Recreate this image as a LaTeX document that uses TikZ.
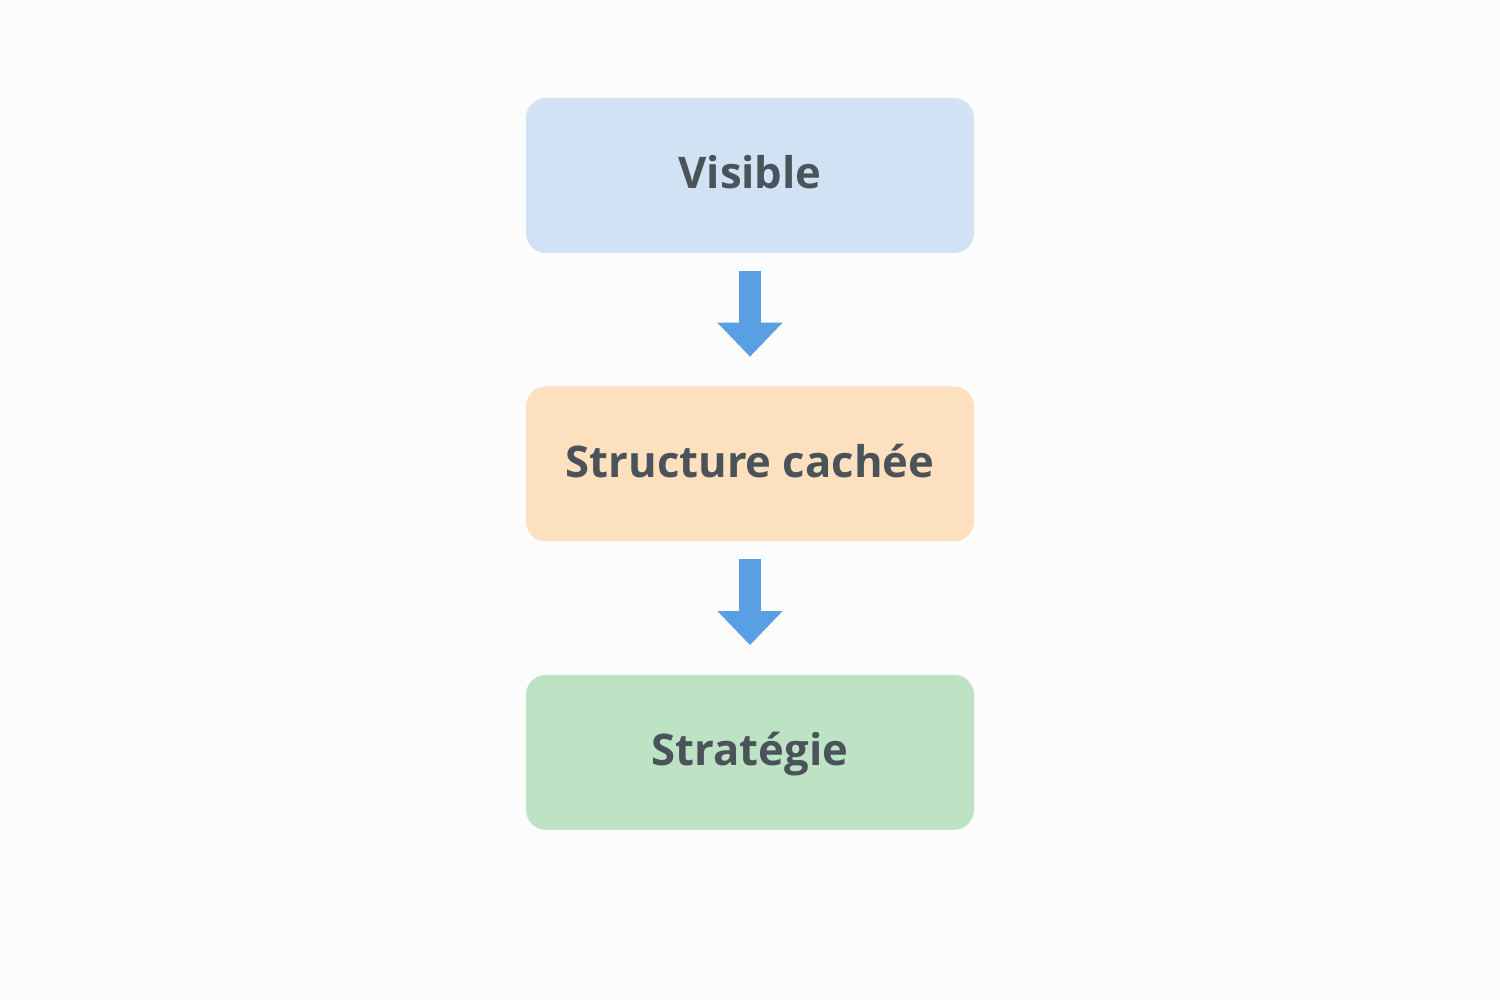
\documentclass[tikz,border=0pt]{standalone}
\usepackage{fontspec}
\setmainfont{Open Sans}
\usepackage{xcolor}
\usepackage{tikz}
\usetikzlibrary{positioning, arrows.meta}
\definecolor{bgwhite}{HTML}{FCFCFC}
\definecolor{stblue}{HTML}{D2E2F5}
\definecolor{storange}{HTML}{FDE0BE}
\definecolor{stgreen}{HTML}{BDE2C4}
\definecolor{starrow}{HTML}{5A9FE3}
\definecolor{sttext}{HTML}{4A525A}

\begin{document}
\begin{tikzpicture}[
  node distance=1.32cm,
  level/.style={
    rectangle, rounded corners=0.2cm, draw=none, fill=#1,
    minimum width=4.48cm, minimum height=1.55cm, inner xsep=0pt,
    text height=0.35cm, text depth=0.08cm,
    font=\fontsize{12.4}{15}\selectfont\bfseries, text=sttext, align=center
  },
  level/.default=stblue,
  flow/.style={-{Triangle[length=0.34cm, width=0.63cm]}, line width=0.22cm,
    color=starrow, shorten <=0.17cm, shorten >=0.29cm},
]

% --- Background / page size ---
\fill[bgwhite] (0,0) rectangle (15,-10);
\useasboundingbox (0,0) rectangle (15,-10);

% --- Levels ---
\node[level=stblue] (visible) at (7.5,-1.755) {Visible};
\node[level=storange, below=of visible] (hidden) {Structure cachée};
\node[level=stgreen, below=of hidden] (strategy) {Stratégie};

% --- Arrows ---
\draw[flow] (visible) -- (hidden);
\draw[flow] (hidden) -- (strategy);

\end{tikzpicture}
\end{document}
